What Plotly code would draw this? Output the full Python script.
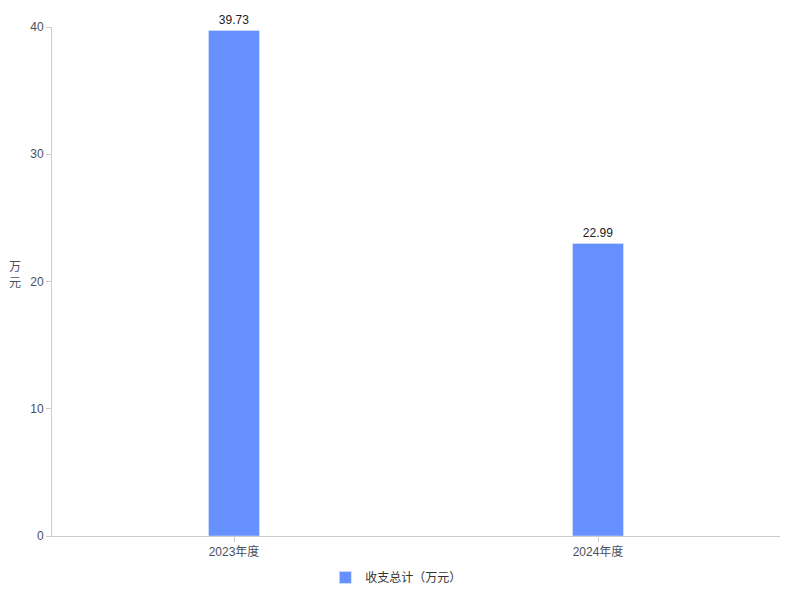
import plotly.graph_objs as go

categories = ["2023年度", "2024年度"]
values = [39.73, 22.99]
series_name = "收支总计（万元）"
y_ticks = [0, 10, 20, 30, 40]

font_family = "Liberation Sans, Arial, Noto Sans CJK SC, sans-serif"

fig = go.Figure()
fig.add_trace(go.Bar(
    x=categories,
    y=values,
    name=series_name,
    marker=dict(color="#6690ff"),
    width=0.14,
    text=[f"{v:.2f}" for v in values],
    textposition="outside",
    textfont=dict(size=12, color="#222222"),
    cliponaxis=False,
))

# page body adds an 8px offset, so margins are shifted to compensate
fig.update_layout(
    width=800, height=600,
    margin=dict(l=44, r=28, t=19, b=72, autoexpand=False),
    plot_bgcolor="white", paper_bgcolor="white",
    font=dict(family=font_family, size=12, color="#4a5060"),
    showlegend=True,
    legend=dict(orientation="h", x=0.473, xanchor="center", y=-0.053, yanchor="top",
                itemwidth=30, font=dict(size=12, color="#333333")),
    xaxis=dict(
        showline=True, linecolor="#cccccc", linewidth=1,
        ticks="outside", ticklen=5, tickcolor="#cccccc",
        showgrid=False, automargin=False,
    ),
    yaxis=dict(
        range=[0, 40], tickvals=y_ticks,
        showline=True, linecolor="#cccccc", linewidth=1,
        ticks="outside", ticklen=5, tickcolor="#cccccc",
        showgrid=False, zeroline=False, automargin=False,
    ),
    annotations=[dict(
        text="万<br>元", xref="paper", yref="paper", x=-0.051, y=0.513,
        xanchor="center", yanchor="middle", showarrow=False,
        font=dict(size=12, color="#4a5060"),
    )],
)

fig.write_html("out.html")
